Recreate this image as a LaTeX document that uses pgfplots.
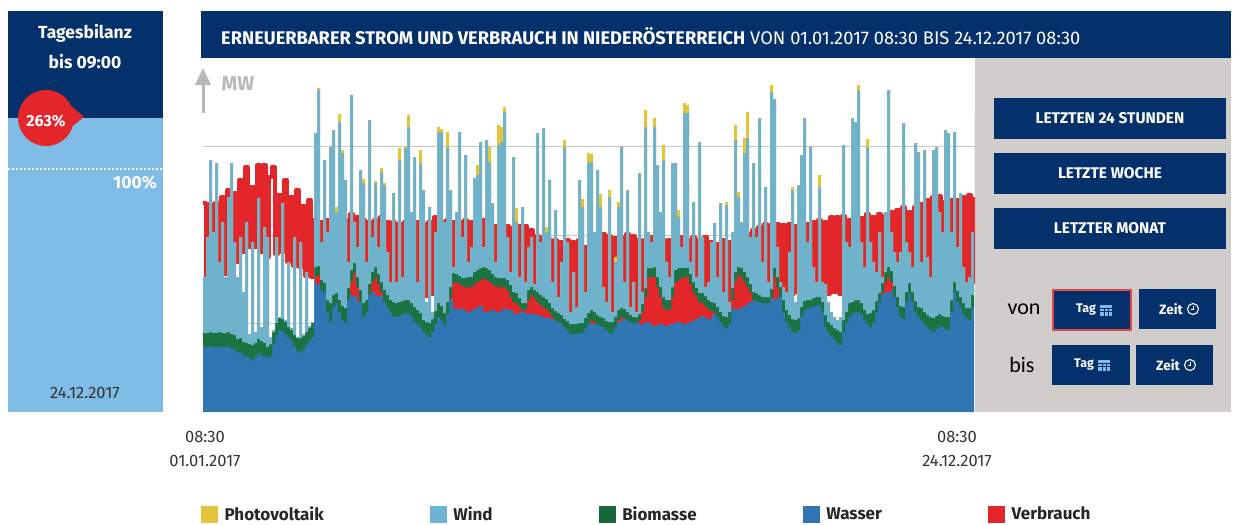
\documentclass[border=0pt]{standalone}
\usepackage{pgfplots}
\usepackage{pgfplotstable}
\usepackage{fontspec}
\setmainfont{Fira Sans}
\newfontfamily\vonfont{Carlito}
\pgfplotsset{compat=1.18}
\definecolor{navy}{HTML}{04306B}
\definecolor{lightb}{HTML}{7FBDE6}
\definecolor{panelg}{HTML}{D0CDCB}
\definecolor{wasser}{HTML}{2F76B2}
\definecolor{bio}{HTML}{1A7340}
\definecolor{wind}{HTML}{6FB2CC}
\definecolor{pv}{HTML}{E3C53C}
\definecolor{verb}{HTML}{E2262A}
\definecolor{legwind}{HTML}{6DB3D8}
\definecolor{legbio}{HTML}{17693A}
\definecolor{legwas}{HTML}{2F76B2}
\pgfplotstableread{
x W G T P V
0 65 14 135 0 209
3 65 14 175 0 136
6 66 14 252 0 208
9 65 14 180 0 134
12 65 14 249 0 209
15 66 14 150 0 132
18 65 14 190 0 215
21 65 14 135 0 138
24 66 14 215 0 222
27 64 14 249 0 140
30 63 14 170 0 219
33 60 13 135 0 150
36 60 14 175 0 232
39 57 13 120 0 160
42 56 13 190 0 245
45 54 14 78 0 165
48 52 15 170 0 225
51 55 14 80 0 165
54 59 14 214 0 247
57 57 14 85 0 160
60 56 13 185 0 247
63 54 11 175 0 155
66 56 12 75 0 235
69 68 12 82 0 245
72 77 12 175 0 158
75 82 12 95 0 217
78 81 12 209 0 160
81 78 12 92 0 232
84 75 10 150 0 150
87 72 10 84 0 215
90 66 11 175 0 146
93 61 13 75 0 222
96 60 14 170 0 145
99 62 14 78 0 206
102 67 13 140 0 136
105 71 13 86 0 212
108 75 14 90 0 135
111 135 10 279 0 192
114 137 9 322 2 130
117 122 10 170 0 190
120 120 9 252 0 125
123 100 12 180 0 192
126 90 19 265 0 118
129 105 12 282 0 188
132 109 10 200 5 122
135 100 12 290 8 190
138 92 14 259 3 118
141 89 15 232 0 192
144 112 12 150 0 120
147 130 12 317 0 198
150 139 10 190 0 118
153 125 10 165 0 195
156 110 12 242 0 112
159 95 14 229 4 192
162 100 12 150 0 118
165 118 10 292 0 190
168 130 10 175 0 122
171 135 10 229 2 192
174 128 10 165 0 118
177 120 10 240 4 195
180 110 12 227 2 118
183 105 12 160 0 190
186 100 12 130 0 115
189 96 14 219 0 190
192 95 14 130 0 112
195 96 14 252 12 188
198 98 13 135 0 115
201 99 13 264 2 190
204 99 13 285 12 120
207 96 13 200 0 192
210 90 15 255 0 118
213 88 14 130 0 190
216 85 14 249 13 118
219 80 12 222 0 188
222 78 12 110 0 116
225 75 14 205 0 190
228 80 13 100 0 118
231 88 13 180 0 195
234 95 14 280 5 115
237 92 14 280 3 190
240 87 12 190 0 120
243 98 12 265 15 192
246 115 10 222 0 115
249 129 10 145 0 190
252 130 8 200 0 105
255 128 8 280 0 190
258 126 8 175 0 105
261 125 9 257 0 192
264 125 10 150 0 102
267 125 10 165 0 190
270 128 12 234 0 105
273 130 12 237 10 188
276 132 12 270 0 108
279 134 11 165 0 192
282 132 12 272 0 102
285 130 12 250 15 190
288 128 10 209 0 104
291 126 9 150 0 186
294 125 9 267 20 102
297 125 9 270 15 188
300 125 9 300 5 105
303 122 10 175 0 186
306 115 12 140 0 104
309 110 10 255 0 184
312 109 10 190 14 100
315 105 9 135 0 186
318 102 7 205 0 102
321 102 7 130 0 186
324 112 10 165 0 100
327 117 8 175 0 182
330 114 8 128 0 100
333 110 10 279 0 176
336 107 10 170 0 98
339 105 10 284 0 175
342 103 10 180 5 96
345 100 9 232 0 172
348 95 9 130 0 95
351 92 9 202 0 172
354 90 9 115 0 93
357 89 8 150 0 170
360 85 8 265 7 90
363 82 9 170 0 172
366 78 10 100 0 90
369 78 10 140 0 170
372 78 10 105 0 92
375 79 10 232 0 172
378 79 10 205 8 90
381 84 10 120 0 165
384 89 10 249 10 92
387 92 10 250 8 175
390 90 10 180 0 90
393 88 9 242 0 178
396 86 9 205 13 92
399 85 9 125 0 178
402 82 9 110 0 90
405 79 11 215 7 176
408 79 11 100 0 92
411 85 10 150 5 174
414 92 10 205 5 92
417 95 9 265 0 175
420 94 9 130 0 95
423 92 8 222 0 178
426 90 7 105 0 96
429 89 6 130 0 176
432 89 6 100 0 92
435 92 6 239 0 172
438 100 8 120 0 90
441 115 9 285 17 172
444 135 9 180 0 92
447 135 9 170 0 175
450 135 10 285 9 88
453 125 10 247 0 175
456 115 10 200 0 90
459 105 10 252 15 172
462 102 10 150 0 88
465 102 10 135 0 172
468 115 10 249 0 90
471 130 12 249 0 172
474 132 12 195 7 92
477 134 10 165 0 175
480 135 9 299 10 90
483 135 9 299 8 172
486 128 10 150 0 92
489 120 10 210 0 175
492 115 9 135 0 95
495 110 9 270 0 172
498 109 10 175 0 98
501 106 10 125 0 175
504 103 9 130 0 95
507 101 9 170 0 170
510 100 9 189 0 100
513 95 10 135 0 168
516 90 10 209 0 98
519 86 10 120 0 172
522 84 11 207 3 100
525 88 12 110 0 170
528 112 12 180 0 105
531 130 10 272 15 172
534 137 8 215 5 105
537 135 9 190 0 178
540 130 10 259 15 108
543 125 10 274 26 178
546 120 8 175 0 112
549 112 8 249 0 182
552 112 7 175 0 118
555 110 7 294 0 185
558 109 6 150 0 115
561 109 6 225 0 188
564 109 6 130 0 118
567 115 8 320 7 187
570 135 9 313 0 115
573 125 10 165 0 188
576 115 10 130 0 118
579 100 12 125 0 187
582 90 12 120 0 115
585 85 12 160 0 188
588 80 13 222 3 118
591 79 13 110 0 186
594 82 12 227 0 120
597 95 10 257 0 188
600 102 9 294 0 115
603 104 8 170 0 188
606 105 7 265 0 118
609 106 8 145 0 190
612 107 8 130 0 115
615 107 8 225 12 192
618 100 10 130 0 120
621 85 12 128 0 190
624 79 11 110 0 118
627 76 11 100 0 195
630 72 12 95 0 120
633 69 13 92 0 195
636 67 13 95 0 118
639 80 12 267 0 196
642 90 10 170 0 120
645 95 14 165 0 192
648 98 12 294 0 118
651 100 12 290 0 196
654 100 12 322 5 120
657 98 11 170 0 194
660 92 10 145 0 116
663 88 10 265 8 198
666 85 14 170 0 118
669 90 12 150 0 195
672 100 11 140 0 122
675 110 9 180 0 198
678 120 9 135 0 120
681 130 10 200 0 196
684 135 10 322 0 122
687 130 11 180 0 200
690 115 11 160 0 125
693 105 10 150 0 202
696 95 11 160 0 120
699 93 12 289 0 205
702 110 10 170 0 125
705 119 10 160 0 200
708 110 10 145 0 130
711 100 11 269 0 205
714 95 10 260 0 125
717 92 12 150 0 208
720 88 12 262 0 125
723 85 12 155 0 212
726 82 13 135 0 128
729 80 14 262 0 215
732 83 13 265 0 130
735 86 12 200 0 216
738 85 11 180 0 128
741 83 12 282 0 210
744 82 13 279 0 125
747 100 12 180 0 212
750 120 10 280 0 130
753 110 11 165 0 212
756 105 10 219 0 128
759 98 11 145 0 215
762 94 10 130 0 130
765 92 12 135 0 217
768 105 12 180 0 130
771 113 12 295 0 215
}\data
\newcommand{\fs}[1]{\fontsize{#1}{#1}\selectfont}
\begin{document}
\begin{tikzpicture}[x=1pt,y=-1pt]
\path[use as bounding box] (0,0) rectangle (1243,525);
% left panel
\fill[navy] (8,11) rectangle (163,118);
\fill[lightb] (8,118) rectangle (163,412);
\draw[white,line width=1.6pt,dash pattern=on 2pt off 2pt] (8,169) -- (163,169);
\node[white,font=\fs{17.5}\bfseries] at (85,33) {Tagesbilanz};
\node[white,font=\fs{17.5}\bfseries] at (85,62) {bis 09:00};
\fill[verb] (46,118) circle (28);
\fill[verb] (70,105) -- (84,117) -- (70,128) -- cycle;
\node[white,font=\fs{16}\bfseries] at (46,121) {263\%};
\node[white,font=\fs{17.5}\bfseries] at (135,183) {100\%};
\node[black!80,font=\fs{16.5}] at (85,393) {24.12.2017};
% header
\fill[navy] (201,11) rectangle (1231,58);
\node[white,anchor=west,inner sep=0pt,font=\fs{18.3}] at (221,36) {\textbf{ERNEUERBARER STROM UND VERBRAUCH IN NIEDERÖSTERREICH} VON 01.01.2017 08:30 BIS 24.12.2017 08:30};
% grey panel
\fill[panelg] (975,58) rectangle (1231,412);
\foreach \a/\b/\t in {98/139/LETZTEN 24 STUNDEN,153/194/LETZTE WOCHE,208/249/LETZTER MONAT}{
  \fill[navy] (994,\a) rectangle (1226,\b);
  \node[white,font=\fs{15.5}\bfseries] at (1110,{(\a+\b)/2}) {\t};
}
\node[black,font=\vonfont\fs{22}] at (1024,309) {von};
\node[black,font=\vonfont\fs{22}] at (1022,365) {bis};
\fill[navy] (1053,290) rectangle (1131,330);
\draw[verb!85!white,line width=1.2pt] (1053,290) rectangle (1131,330);
\fill[navy] (1139,289) rectangle (1216,329);
\fill[navy] (1052,345) rectangle (1130,385);
\fill[navy] (1136,345) rectangle (1213,385);
\foreach \xx/\yy in {1086/310,1084/365}{
  \node[white,font=\fs{12.5}\bfseries] at (\xx,\yy) {Tag};
  \fill[lightb] (\xx+14,\yy-5) rectangle (\xx+26,\yy+6);
  \draw[navy,line width=0.6pt] (\xx+14,\yy-2) -- (\xx+26,\yy-2) (\xx+14,\yy+1) -- (\xx+26,\yy+1) (\xx+18,\yy-2) -- (\xx+18,\yy+6) (\xx+22,\yy-2) -- (\xx+22,\yy+6);
}
\foreach \xx/\yy in {1171/309,1168/365}{
  \node[white,font=\fs{13.5}\bfseries] at (\xx,\yy) {Zeit};
  \draw[white,line width=1.1pt] (\xx+22,\yy) circle (5.5);
  \draw[white,line width=0.9pt] (\xx+22,\yy-3) -- (\xx+22,\yy) -- (\xx+19.5,\yy);
}
% chart
\begin{axis}[
  at={(203pt,-412pt)},anchor=south west,
  scale only axis,width=772pt,height=354pt,
  xmin=0,xmax=772,ymin=0,ymax=354,
  stack plots=y,
  reverse stacked plots=false,
  const plot,
  axis line style={draw=none},
  tick style={draw=none},
  xtick={2,754},
  xticklabels={{08:30\\01.01.2017},{08:30\\24.12.2017}},
  xticklabel style={align=center,font=\fontsize{16.5}{24}\selectfont,text=black!80,yshift=-16pt},
  ytick={88.5,177,265.5},yticklabels={},
  ymajorgrids,
  grid style={draw=black!22,line width=0.8pt},
  legend columns=5,
  legend style={at={(axis description cs:-0.0026,-0.288)},anchor=west,draw=none,fill=none,inner sep=0pt,
    font=\fontsize{17}{17}\selectfont\bfseries,text=black!85,
    /tikz/every even column/.append style={column sep=104.3pt},
    /tikz/every odd column/.append style={column sep=5pt}},
  legend cell align=left,
  legend image code/.code={\fill[#1] (0pt,-8pt) rectangle (16pt,8pt);},
]
\addlegendimage{pv}\addlegendentry{Photovoltaik}
\addlegendimage{legwind}\addlegendentry{Wind}
\addlegendimage{legbio}\addlegendentry{Biomasse}
\addlegendimage{legwas}\addlegendentry{Wasser}
\addlegendimage{verb}\addlegendentry{Verbrauch}
\addplot[forget plot,fill=wasser,draw=none] table[x=x,y=W] {\data} \closedcycle;
\addplot[forget plot,stack plots=false,draw=verb,line width=3.2pt,line join=round] table[x=x,y=V] {\data};
\addplot[forget plot,fill=bio,draw=none] table[x=x,y=G] {\data} \closedcycle;
\addplot[forget plot,fill=wind,draw=none] table[x=x,y expr=\thisrow{T}-\thisrow{W}-\thisrow{G}] {\data} \closedcycle;
\addplot[forget plot,fill=pv,draw=none] table[x=x,y=P] {\data} \closedcycle;
\end{axis}
% y arrow
\fill[black!28] (201.5,113) rectangle (204.5,84);
\fill[black!28] (195,85) -- (203,68) -- (211,85) -- cycle;
\node[black!28,font=\fs{20}\bfseries] at (238,84) {MW};
\end{tikzpicture}
\end{document}
